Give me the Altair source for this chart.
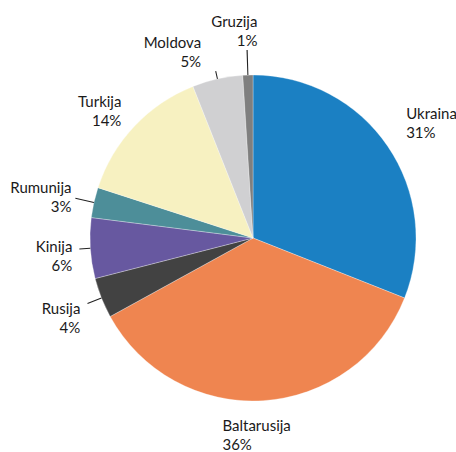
import math
import altair as alt
import pandas as pd

countries = ["Ukraina", "Baltarusija", "Rusija", "Kinija", "Rumunija", "Turkija", "Moldova", "Gruzija"]
shares = [31, 36, 4, 6, 3, 14, 5, 1]
colors = ["#1B80C3", "#EF8550", "#424242", "#6758A0", "#4D8E99", "#F7F1C1", "#D0D0D2", "#7F7F7F"]
leader_countries = ["Gruzija", "Moldova", "Rumunija", "Kinija", "Rusija"]

df = pd.DataFrame({"country": countries, "share": shares, "idx": list(range(len(countries)))})

CX, CY, R = 253, 238, 163
theta_scale = alt.Scale(domain=[0, 100], range=[0, 2 * math.pi])
color_scale = alt.Scale(domain=countries, range=colors)

base = (
    alt.Chart(df)
    .transform_window(cum="sum(share)", sort=[alt.SortField("idx")], frame=[None, 0])
    .transform_calculate(
        start="datum.cum - datum.share",
        mid="datum.cum - datum.share / 2",
        mid_lo="datum.cum - datum.share / 2 - 0.05",
        mid_hi="datum.cum - datum.share / 2 + 0.05",
        label="datum.country + '\\n' + datum.share + '%'",
    )
)

pie = base.mark_arc(radius=R, stroke="white", strokeWidth=0.3).encode(
    theta=alt.Theta("start:Q", scale=theta_scale),
    theta2="cum:Q",
    color=alt.Color("country:N", scale=color_scale, legend=None),
    x=alt.value(CX),
    y=alt.value(CY),
)

# leader ticks (radial), per slice outer radius
leader_len = {"Gruzija": 188, "Moldova": 171, "Rumunija": 182, "Kinija": 174, "Rusija": 178}
leaders = []
for c in leader_countries:
    leaders.append(
        base.transform_filter(alt.datum.country == c)
        .mark_arc(radius=R, radius2=leader_len[c], color="#222222")
        .encode(
            theta=alt.Theta("mid_lo:Q", scale=theta_scale),
            theta2="mid_hi:Q",
            x=alt.value(CX),
            y=alt.value(CY),
        )
    )

# label placement: (radius, align, dx, dy)
label_cfg = {
    "Ukraina": (190, "left", -4, -17),
    "Baltarusija": (198, "left", -43, -10),
    "Rusija": (190, "right", 4, 1),
    "Kinija": (182, "right", 1, -2),
    "Rumunija": (186, "right", 0, -9),
    "Turkija": (186, "right", 4, -9),
    "Moldova": (192, "right", -10, -8),
    "Gruzija": (209, "right", 11, -7),
}
labels = []
for c in countries:
    rad, al, dx, dy = label_cfg[c]
    labels.append(
        base.transform_filter(alt.datum.country == c)
        .mark_text(
            radius=rad, align=al, baseline="middle", dx=dx, dy=dy,
            lineBreak="\n", lineHeight=19, font="Lato", fontSize=15, color="#1a1a1a",
        )
        .encode(
            theta=alt.Theta("mid:Q", scale=theta_scale),
            text="label:N",
            x=alt.value(CX),
            y=alt.value(CY),
        )
    )

chart = (
    alt.layer(pie, *leaders, *labels)
    .properties(width=456, height=452, padding=0, autosize=alt.AutoSizeParams(type="none"), background="white")
    .configure_view(stroke=None)
)

chart.save("out.html", embed_options={"renderer": "svg", "actions": False})
